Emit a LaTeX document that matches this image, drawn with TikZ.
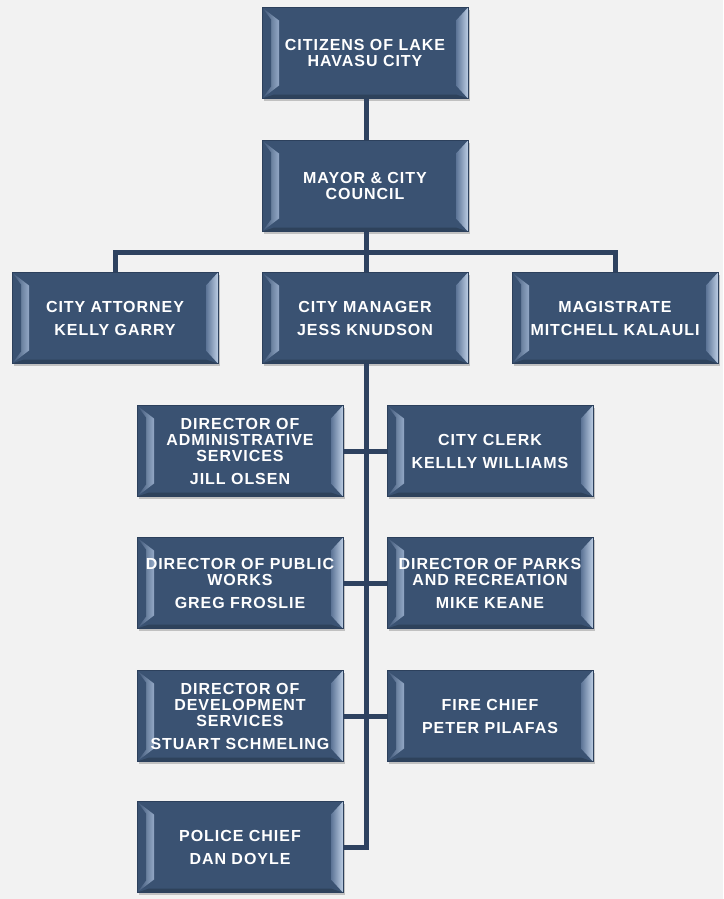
\documentclass[tikz,border=0pt]{standalone}
\usepackage{fontspec}
\setmainfont{Liberation Sans}
\usetikzlibrary{calc,shadows}
\definecolor{bg}{HTML}{F2F2F2}
\definecolor{face}{HTML}{3A5272}
\definecolor{faceedge}{HTML}{2C405C}
\definecolor{bevL}{HTML}{93A8C6}
\definecolor{bevRa}{HTML}{5C7496}
\definecolor{bevRb}{HTML}{BCCDE3}
\definecolor{linec}{HTML}{2E4260}
\tikzset{
  orgbox/.style={minimum width=206pt, minimum height=91pt, inner sep=0pt,
    fill=face, draw=faceedge, line width=0.6pt, align=center, text=white,
    font=\bfseries\addfontfeature{LetterSpace=6}\fontsize{16}{16}\selectfont,
    drop shadow={shadow xshift=1.5pt, shadow yshift=-2.5pt, opacity=0.35, fill=black!60},
    path picture={
      \coordinate (pNW) at (path picture bounding box.north west);
      \coordinate (pSE) at (path picture bounding box.south east);
      \coordinate (pNE) at (pNW -| pSE);
      \coordinate (pSW) at (pSE -| pNW);
      \fill[face!80!black] (pSW) -- (pSE) -- ($(pSE)+(-12pt,4pt)$) -- ($(pSW)+(12pt,4pt)$) -- cycle;
      \shade[left color=face, right color=bevL]
        (pNW) -- ($(pNW)+(17pt,-13pt)$) -- ($(pSW)+(17pt,13pt)$) -- (pSW) -- cycle;
      \fill[face] (pNW) -- ($(pNW)+(9pt,-12pt)$) -- ($(pSW)+(9pt,12pt)$) -- (pSW) -- cycle;
      \shade[left color=bevRa, right color=bevRb]
        (pNE) -- ($(pNE)+(-12pt,-13pt)$) -- ($(pSE)+(-12pt,13pt)$) -- (pSE) -- cycle;
    }},
  conn/.style={draw=linec, line width=5pt}
}
\begin{document}
\begin{tikzpicture}[x=1pt,y=-1pt]
\fill[bg] (0,0) rectangle (723,899);
\useasboundingbox (0,0) rectangle (723,899);

\coordinate (barL) at (115,252);
\coordinate (barR) at (615,252);
\coordinate (barM) at (366,252);

\node[orgbox] (cit) at (365,53) {CITIZENS OF LAKE\\HAVASU CITY};
\node[orgbox] (may) at (365,186) {MAYOR \& CITY\\COUNCIL};
\node[orgbox] (att) at (115,318) {CITY ATTORNEY\\[7pt]KELLY GARRY};
\node[orgbox] (mgr) at (365,318) {CITY MANAGER\\[7pt]JESS KNUDSON};
\node[orgbox] (mag) at (615,318) {MAGISTRATE\\[7pt]MITCHELL KALAULI};

\node[orgbox] (adm) at (240,451) {DIRECTOR OF\\ADMINISTRATIVE\\SERVICES\\[7pt]JILL OLSEN};
\node[orgbox] (clk) at (490,451) {CITY CLERK\\[7pt]KELLLY WILLIAMS};
\node[orgbox] (pw) at (240,583) {DIRECTOR OF PUBLIC\\WORKS\\[7pt]GREG FROSLIE};
\node[orgbox] (prk) at (490,583) {DIRECTOR OF PARKS\\AND RECREATION\\[7pt]MIKE KEANE};
\node[orgbox] (dev) at (240,716) {DIRECTOR OF\\DEVELOPMENT\\SERVICES\\[7pt]STUART SCHMELING};
\node[orgbox] (fire) at (490,716) {FIRE CHIEF\\[7pt]PETER PILAFAS};
\node[orgbox] (pol) at (240,847) {POLICE CHIEF\\[7pt]DAN DOYLE};

\draw[conn] (cit.south -| barM) -- (may.north -| barM);
\draw[conn] (may.south -| barM) -- (barM);
\draw[conn] (att.north) -- (barL) -- (barR) -- (mag.north);
\draw[conn] (barM) -- (mgr.north -| barM);
\draw[conn] (mgr.south -| barM) |- (pol.east);
\draw[conn] (adm.east) -- (clk.west);
\draw[conn] (pw.east) -- (prk.west);
\draw[conn] (dev.east) -- (fire.west);
\end{tikzpicture}
\end{document}
